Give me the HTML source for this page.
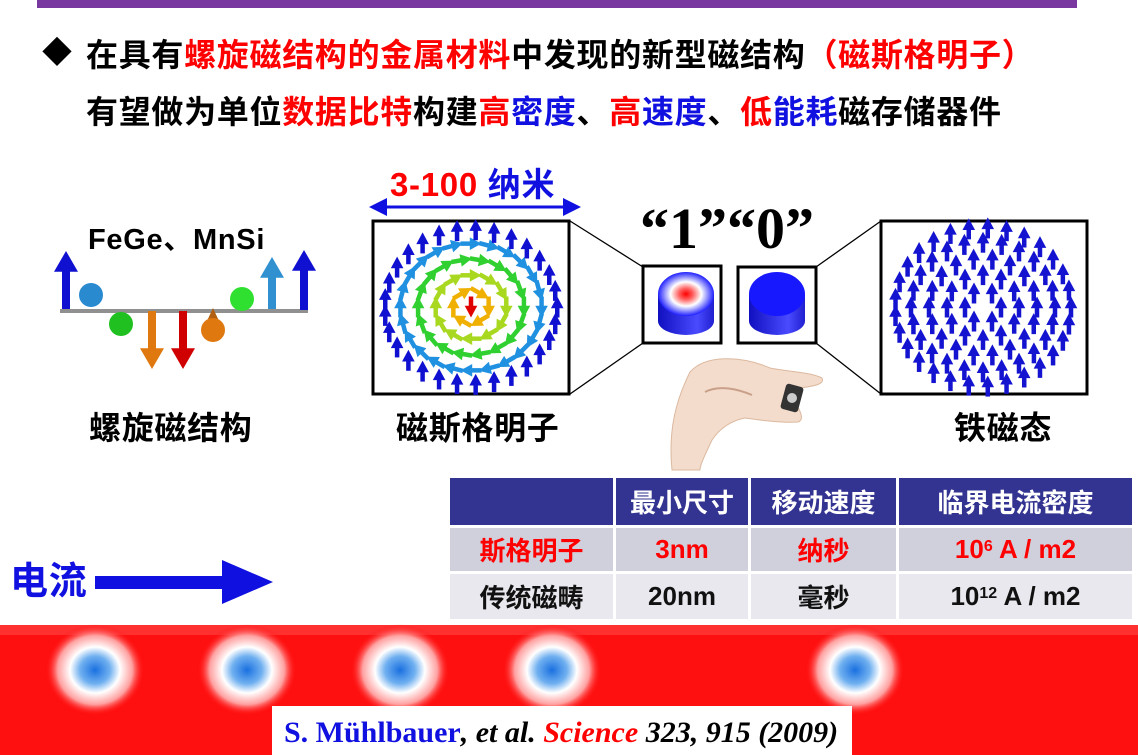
<!DOCTYPE html>
<html><head><meta charset="utf-8">
<style>
html,body{margin:0;padding:0;background:#fff}
#c{position:relative;width:1138px;height:755px;overflow:hidden;font-family:"Liberation Sans","Noto Sans CJK SC",sans-serif;font-weight:bold}
.t{position:absolute;white-space:nowrap;font-size:32px;line-height:36px;letter-spacing:0.7px}
.r{color:#ff0000}.b{color:#1010e0}.k{color:#000}
table{position:absolute;left:447px;top:475px;border-collapse:collapse;font-size:26px}
td{text-align:center;padding:0;border:3px solid #fff}
</style></head><body><div id="c">
<div style="position:absolute;left:37px;top:0;width:1040px;height:8px;background:#7838a0"></div>
<div class="t" style="left:42px;top:36px;font-size:30px">◆</div>
<div class="t" style="left:86px;top:37px"><span class="k">在具有</span><span class="r">螺旋磁结构的金属材料</span><span class="k">中发现的新型磁结构</span><span class="r">（磁斯格明子）</span></div>
<div class="t" style="left:86px;top:94px"><span class="k">有望做为单位</span><span class="r">数据比特</span><span class="k">构建</span><span class="r">高</span><span class="b">密度</span><span class="k">、</span><span class="r">高</span><span class="b">速度</span><span class="k">、</span><span class="r">低</span><span class="b">能耗</span><span class="k">磁存储器件</span></div>

<div class="t" style="left:390px;top:167px;font-size:33px"><span class="r">3-100 </span><span class="b">纳米</span></div>
<div class="t" style="left:88px;top:222px;font-size:29px">FeGe、MnSi</div>
<div class="t" style="left:89px;top:410px;font-size:32px">螺旋磁结构</div>
<div class="t" style="left:396px;top:410px;font-size:32px">磁斯格明子</div>
<div class="t" style="left:954px;top:410px;font-size:32px">铁磁态</div>
<div class="t" style="left:640px;top:194px;font-family:'Liberation Serif',serif;font-size:58px;line-height:70px;letter-spacing:0px">“1”“0”</div>
<div class="t b" style="left:10px;top:560px;font-size:38px;line-height:44px">电流</div>

<svg width="1138" height="755" style="position:absolute;left:0;top:0" id="s">
<defs>
<radialGradient id="g1" cx="0.5" cy="0.5" r="0.5"><stop offset="0" stop-color="#ff0000"/><stop offset="0.25" stop-color="#ff6060"/><stop offset="0.55" stop-color="#ffffff"/><stop offset="1" stop-color="#2020ff"/></radialGradient>
<linearGradient id="gb" x1="0" x2="1"><stop offset="0" stop-color="#1010c0"/><stop offset="0.7" stop-color="#4a4aff"/><stop offset="1" stop-color="#2020d0"/></linearGradient>
<radialGradient id="sk" cx="0.5" cy="0.5" r="0.5"><stop offset="0" stop-color="#1a70e0"/><stop offset="0.3" stop-color="#70b0f0"/><stop offset="0.5" stop-color="#ffffff"/><stop offset="0.75" stop-color="#ffa0a0"/><stop offset="1" stop-color="#ff0000" stop-opacity="0"/></radialGradient>
<marker id="ah" markerWidth="6" markerHeight="6" refX="1" refY="3" orient="auto"><path d="M0,0L6,3L0,6Z" fill="#1010e0"/></marker>
<marker id="ah2" markerWidth="6" markerHeight="6" refX="5" refY="3" orient="auto-start-reverse"><path d="M0,0L6,3L0,6Z" fill="#1010e0"/></marker>
</defs>
<line x1="60" y1="311" x2="308" y2="311" stroke="#909090" stroke-width="4"/>
<g id="helix"></g>
<line x1="372" y1="207" x2="566" y2="207" stroke="#1010e0" stroke-width="3" marker-end="url(#ah)" marker-start="url(#ah2)"/>
<rect x="373" y="221" width="196" height="173" fill="#fff" stroke="#000" stroke-width="3"/>
<rect x="881" y="221" width="206" height="173" fill="#fff" stroke="#000" stroke-width="3"/>
<g id="sky"></g><g id="fm"></g>
<line x1="570" y1="221" x2="643" y2="267" stroke="#000" stroke-width="1.3"/>
<line x1="570" y1="394" x2="643" y2="343" stroke="#000" stroke-width="1.3"/>
<line x1="816" y1="267" x2="881" y2="221" stroke="#000" stroke-width="1.3"/>
<line x1="816" y1="343" x2="881" y2="394" stroke="#000" stroke-width="1.3"/>
<rect x="643" y="266" width="78" height="77" fill="#fff" stroke="#000" stroke-width="3"/>
<rect x="738" y="267" width="78" height="76" fill="#fff" stroke="#000" stroke-width="3"/>
<path d="M658,294 L658,321 A28,14 0 0 0 714,321 L714,294Z" fill="url(#gb)"/>
<ellipse cx="686" cy="294" rx="28" ry="22" fill="url(#g1)"/>
<path d="M749,294 L749,321 A28,14 0 0 0 805,321 L805,294Z" fill="url(#gb)"/>
<ellipse cx="777" cy="294" rx="28" ry="22" fill="#1818ff"/>
<path d="M672,470 C668,430 676,400 690,372 C705,355 740,355 770,368 C790,372 810,372 822,378 C825,384 815,386 800,388 L795,402 C800,410 805,420 798,422 C780,423 760,420 745,418 C735,420 722,425 712,440 C705,455 700,465 700,470Z" fill="#f3dccb" stroke="#dcb9a0" stroke-width="1"/>
<path d="M705,392 C720,384 740,390 752,395" stroke="#c9a089" stroke-width="2" fill="none"/>
<rect x="783" y="385" width="18" height="26" rx="3" fill="#333" transform="rotate(15 792 398)"/>
<circle cx="792" cy="398" r="5" fill="#ccc" />
<rect x="95" y="576" width="135" height="13" fill="#1010e0"/>
<path d="M222,560 L273,582 L222,604Z" fill="#1010e0"/>
<rect x="0" y="625" width="1138" height="130" fill="#ff1010"/>
<rect x="0" y="625" width="1138" height="10" fill="#ff3030"/>
<g fill="url(#sk)">
<ellipse cx="95" cy="670" rx="50" ry="46"/>
<ellipse cx="247" cy="670" rx="50" ry="46"/>
<ellipse cx="400" cy="670" rx="50" ry="46"/>
<ellipse cx="552" cy="670" rx="50" ry="46"/>
<ellipse cx="855" cy="670" rx="50" ry="46"/>
</g>
<rect x="272" y="706" width="580" height="49" fill="#fff"/>
<text x="284" y="742" font-family="Liberation Serif,serif" font-size="30" font-weight="bold"><tspan fill="#1010e0">S. Mühlbauer</tspan><tspan fill="#000" font-style="italic">, et al. </tspan><tspan fill="#ff0000" font-style="italic">Science</tspan><tspan fill="#000" font-style="italic"> 323, 915 (2009)</tspan></text>
</svg>

<table>
<tr style="background:#333391;color:#fff;height:50px"><td style="width:163px"></td><td style="width:132px">最小尺寸</td><td style="width:145px">移动速度</td><td style="width:233px">临界电流密度</td></tr>
<tr style="background:#d0d0dc;color:#f00;height:46px"><td>斯格明子</td><td>3nm</td><td>纳秒</td><td>10<span style="font-size:16px;vertical-align:7px">6</span> A / m2</td></tr>
<tr style="background:#e8e8ee;color:#111;height:48px"><td>传统磁畴</td><td>20nm</td><td>毫秒</td><td>10<span style="font-size:16px;vertical-align:7px">12</span> A / m2</td></tr>
</table>
</div>
<script>
var NS="http://www.w3.org/2000/svg";
function arrow(g,x,y,ang,len,col,w,hs){
 hs=hs||1.9;
 var dx=Math.cos(ang),dy=Math.sin(ang);
 var x0=x-dx*len/2,y0=y-dy*len/2,x1=x+dx*len/2,y1=y+dy*len/2;
 var hl=w*2.6;
 var l=document.createElementNS(NS,"line");
 l.setAttribute("x1",x0);l.setAttribute("y1",y0);l.setAttribute("x2",x1-dx*hl*0.8);l.setAttribute("y2",y1-dy*hl*0.8);
 l.setAttribute("stroke",col);l.setAttribute("stroke-width",w);g.appendChild(l);
 var px=-dy,py=dx,h=w*hs;
 var p=document.createElementNS(NS,"path");
 p.setAttribute("d","M"+x1+","+y1+"L"+(x1-dx*hl+px*h)+","+(y1-dy*hl+py*h)+"L"+(x1-dx*hl-px*h)+","+(y1-dy*hl-py*h)+"Z");
 p.setAttribute("fill",col);g.appendChild(p);
}
var cols=["#e00000","#f0b000","#a8d820","#30d030","#2090e0","#1010d0"];
var sky=document.getElementById("sky"),fm=document.getElementById("fm");
var radii=[0,18,36,54,72,88];
for(var i=0;i<radii.length;i++){
 var r=radii[i],n=i==0?1:Math.round(2*Math.PI*r/19);
 for(var k=0;k<n;k++){
  var a=2*Math.PI*k/n;
  var x=471+r*Math.cos(a)*0.98,y=307+r*Math.sin(a)*0.88;
  var ang=i>=5?-Math.PI/2:(i==0?Math.PI/2:a+Math.PI/2);
  arrow(sky,x,y,ang,21,cols[i],4.5,1.4);
  var x2=983+r*Math.cos(a)*1.0,y2=307+r*Math.sin(a)*0.9;
  if(i>0) arrow(fm,x2,y2,-Math.PI/2,21,"#1414d0",4.5,1.4);
 }
}
var h=document.getElementById("helix");
arrow(h,66,280,-Math.PI/2,58,"#1010d0",8,1.5);
arrow(h,304,280,-Math.PI/2,60,"#1010d0",8,1.5);
arrow(h,272,283,-Math.PI/2,52,"#3090d0",8,1.5);
arrow(h,152,340,Math.PI/2,58,"#e07810",8,1.5);
arrow(h,183,340,Math.PI/2,58,"#d00000",8,1.5);
arrow(h,213,318,-Math.PI/2,20,"#b06010",6,1.2);
function ball(x,y,r,c){var e=document.createElementNS(NS,"circle");e.setAttribute("cx",x);e.setAttribute("cy",y);e.setAttribute("r",r);e.setAttribute("fill",c);h.appendChild(e);}
ball(91,295,12,"#2a8ad0");ball(121,324,12,"#20c020");ball(213,330,12,"#e07810");ball(242,299,12,"#30e030");
</script>
</body></html>
